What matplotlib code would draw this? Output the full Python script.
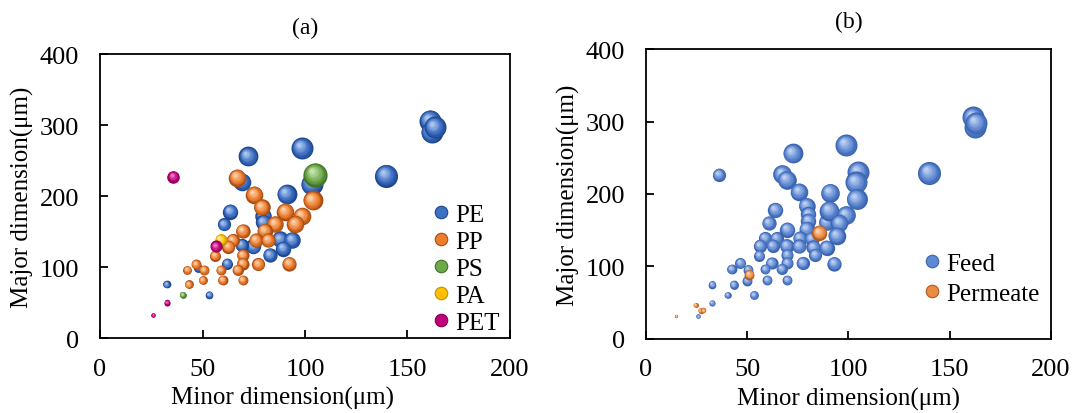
import matplotlib
matplotlib.use("Agg")
import matplotlib.pyplot as plt
import matplotlib.transforms as mtransforms
import numpy as np
from matplotlib.colors import to_rgb
from matplotlib.lines import Line2D

plt.rcParams["font.family"] = ["Liberation Serif", "DejaVu Serif"]

DPI = 100
BUBBLE_SCALE = 1.1

# ---- panel (a): minor dim, major dim, bubble size ----
pe_x = [72.3, 98.5, 103.2, 69.4, 91.0, 63.6, 79.7, 60.5, 79.7, 87.8, 93.7, 89.4,
        74.8, 82.9, 69.1, 62.0, 48.0, 32.5, 53.3, 139.5, 161.0, 161.8, 163.4]
pe_y = [256, 267.6, 217, 220, 203, 178, 172, 160, 163, 139, 138, 126,
        129, 117, 131, 105, 99, 75.6, 61, 228.6, 306, 290, 297]
pe_s = [9, 10, 10, 8, 9, 7, 7.5, 6, 7, 7.5, 7.5, 7,
        7, 6.5, 6, 5, 4, 3.5, 3.5, 10.5, 10, 10, 10]

pp_x = [67.0, 75.3, 103.7, 78.9, 90.4, 98.5, 85.4, 95.3, 80.3, 69.6, 76.0, 82.0,
        64.7, 62.6, 69.6, 56.1, 69.6, 77.2, 92.3, 46.8, 42.6, 50.7, 58.9, 67.1,
        43.3, 50.1, 59.8, 69.6]
pp_y = [226, 202, 194, 184, 178, 172, 160.5, 160.5, 151, 151, 138, 138,
        138, 128.6, 117, 116, 105, 104, 105, 104, 96, 96, 96, 96,
        75.5, 81.7, 81.7, 81.7]
pp_s = [8, 8, 9, 7.5, 8, 8, 7.5, 8, 7, 6.5, 6.5, 6.5,
        6, 6, 5.5, 5, 5.5, 6, 6.5, 4.5, 4, 4.5, 4.5, 5,
        4, 4, 4.5, 4.5]

ps_x = [105.0, 40.3]
ps_y = [230, 61]
ps_s = [11, 3]

pa_x = [58.9]
pa_y = [138.5]
pa_s = [5.5]

pet_x = [35.8, 56.6, 32.7, 26.0]
pet_y = [227, 129, 50, 32.4]
pet_s = [5.7, 5.5, 2.8, 2.0]

# ---- panel (b) ----
feed_x = [36.0, 72.4, 67.3, 69.5, 75.6, 90.9, 79.3, 63.9, 60.7, 69.8, 80.2, 80.2,
          79.3, 89.2, 58.8, 64.5, 56.3, 62.6, 69.5, 76.0, 75.6, 81.8, 82.6, 89.2,
          56.0, 69.8, 83.6, 62.0, 69.8, 77.4, 46.6, 42.3, 50.5, 58.9, 67.0, 50.0,
          59.9, 69.8, 32.7, 43.3, 40.3, 53.3, 32.6, 25.8, 161.6, 162.5, 163.0, 139.9,
          98.8, 104.8, 103.7, 104.0, 90.5, 98.8, 95.5, 94.2, 93.0]
feed_y = [226.7, 256, 227.6, 219.7, 203, 202, 184, 178, 160, 150.8, 172, 163,
          151.7, 161, 139, 139, 128.7, 128.7, 128.7, 139, 128, 138, 126.4, 126,
          115, 116, 116, 104.8, 104.8, 104.8, 104.8, 96.6, 95.6, 96.6, 96.6, 80.5,
          81.4, 81.4, 75, 75, 60.7, 60.7, 49.7, 31.3, 305.7, 292, 298, 229,
          267.6, 230, 216, 193, 177, 171, 160, 142.5, 104]
feed_s = [6, 9, 8.5, 8.5, 8, 8.5, 7.5, 7, 6.5, 7, 7, 7,
          7, 7.5, 6, 6, 6, 6, 6.5, 6.5, 6.5, 6.5, 6.5, 7,
          5, 5.5, 6, 5.5, 5.5, 6, 5, 4.5, 4.5, 4.5, 5, 4.5,
          4.5, 4.5, 3.5, 4, 3, 4, 2.8, 2, 10, 10, 10, 10.5,
          10, 10, 10, 9.5, 9, 8.5, 8, 8, 6.5]

perm_x = [85.6, 51.0, 24.5, 27.0, 28.3, 15.0]
perm_y = [146.5, 88.7, 46.9, 39.0, 39.2, 31.7]
perm_s = [7, 4.5, 2.2, 2.5, 2.5, 1.5]

X_TICKS = [0, 50, 100, 150, 200]
Y_TICKS = [0, 100, 200, 300, 400]

# (edge, body, highlight)
SHADES = {
    "PE":  ("#1c4690", "#3f6fc2", "#a9c6ef"),
    "PP":  ("#a84c12", "#ec7c2e", "#fbd2a8"),
    "PS":  ("#41722a", "#6fa84a", "#c4e4ae"),
    "PA":  ("#c48f00", "#ffc000", "#fff0a0"),
    "PET": ("#82004f", "#c0007a", "#f07ac4"),
    "Feed": ("#3a63b0", "#5f88d2", "#bcd0f2"),
    "Perm": ("#b05a1c", "#eb8a45", "#fbd4b0"),
}


def shade(t, edge, body, light):
    e, b, l = (np.array(to_rgb(c)) for c in (edge, body, light))
    if t < 0.35:
        return e + (b - e) * t / 0.35
    return b + (l - b) * (t - 0.35) / 0.65


def draw_bubbles(fig, ax, xs, ys, sizes, key, n=9):
    # fake a shaded sphere: stacked circles shrinking towards the upper-left highlight
    edge, body, light = SHADES[key]
    for x, y, s in zip(xs, ys, sizes):
        r = s * BUBBLE_SCALE
        for k in range(n):
            t = k / (n - 1)
            rk = r * (1 - 0.82 * t)
            dx = -0.28 * r * t / DPI
            dy = 0.32 * r * t / DPI
            tr = ax.transData + mtransforms.ScaledTranslation(dx, dy, fig.dpi_scale_trans)
            d_pt = 2 * rk * 72 / DPI
            ax.scatter([x], [y], s=d_pt ** 2, color=shade(t, edge, body, light),
                       linewidths=0, transform=tr, zorder=2, clip_on=False)


def style_axes(ax, title, title_pad, xlabel_xy):
    ax.set_xlim(0, 200)
    ax.set_ylim(0, 400)
    ax.set_xticks(X_TICKS)
    ax.set_yticks(Y_TICKS)
    ax.tick_params(direction="in", length=6, width=1.3, labelsize=19)
    ax.tick_params(axis="x", pad=14)
    ax.tick_params(axis="y", pad=15)
    for sp in ax.spines.values():
        sp.set_linewidth(1.3)
    ax.set_xlabel("Minor dimension(\u03bcm)", fontsize=18)
    ax.xaxis.set_label_coords(*xlabel_xy)
    ax.set_ylabel("Major dimension(\u03bcm)", fontsize=18, labelpad=4)
    ax.set_title(title, fontsize=17, pad=title_pad)


def handle(key):
    edge, body, light = SHADES[key]
    return Line2D([], [], marker="o", linestyle="none", markersize=9,
                  markerfacecolor=body, markeredgecolor=edge, markeredgewidth=0.8)


fig = plt.figure(figsize=(1072 / DPI, 414 / DPI), dpi=DPI)
ax1 = fig.add_axes([0.0933, 0.181, 0.3824, 0.686])
ax2 = fig.add_axes([0.6026, 0.179, 0.3778, 0.700])

draw_bubbles(fig, ax1, pe_x, pe_y, pe_s, "PE")
draw_bubbles(fig, ax1, pp_x, pp_y, pp_s, "PP")
draw_bubbles(fig, ax1, ps_x, ps_y, ps_s, "PS")
draw_bubbles(fig, ax1, pa_x, pa_y, pa_s, "PA")
draw_bubbles(fig, ax1, pet_x, pet_y, pet_s, "PET")
style_axes(ax1, "(a)", 15, (0.444, -0.17))
ax1.legend([handle(k) for k in ["PE", "PP", "PS", "PA", "PET"]],
           ["PE", "PP", "PS", "PA", "PET"],
           loc="lower right", bbox_to_anchor=(1.005, -0.03), frameon=False,
           fontsize=18, handletextpad=0.0, labelspacing=0.18, borderpad=0,
           handlelength=1.1)

draw_bubbles(fig, ax2, feed_x, feed_y, feed_s, "Feed")
draw_bubbles(fig, ax2, perm_x, perm_y, perm_s, "Perm")
style_axes(ax2, "(b)", 16, (0.5, -0.165))
ax2.legend([handle("Feed"), handle("Perm")], ["Feed", "Permeate"],
           loc="lower right", bbox_to_anchor=(1.002, 0.073), frameon=False,
           fontsize=18, handletextpad=0.0, labelspacing=0.3, borderpad=0,
           handlelength=1.1)

fig.savefig("out.png", dpi=DPI)
